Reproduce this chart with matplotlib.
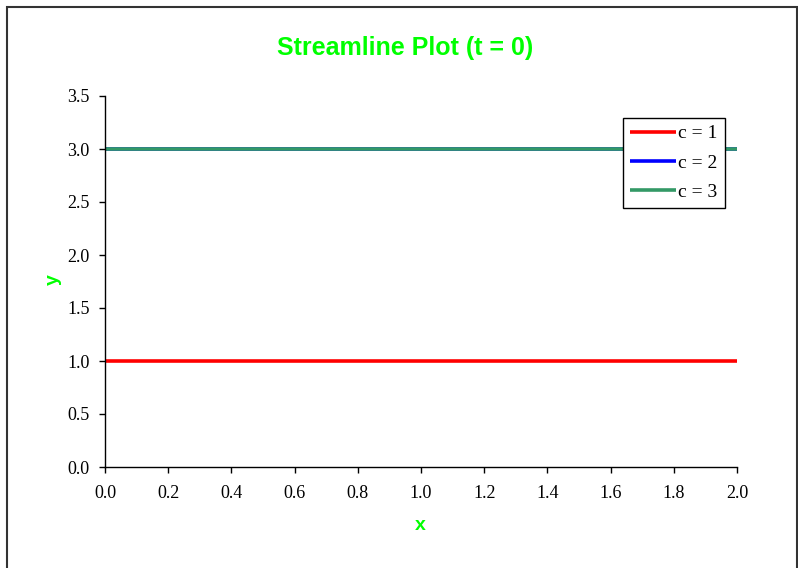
import numpy as np
import matplotlib
matplotlib.use("Agg")
import matplotlib.pyplot as plt
from matplotlib.patches import Rectangle

# data
x_vals = [0.0, 2.0]
labels = ["c = 1", "c = 2", "c = 3"]
y_vals = [[1.0, 1.0], [3.0, 3.0], [3.0, 3.0]]
colors = ["#ff0000", "#0000ff", "#339966"]
x_ticks = [0.0, 0.2, 0.4, 0.6, 0.8, 1.0, 1.2, 1.4, 1.6, 1.8, 2.0]
y_ticks = [0.0, 0.5, 1.0, 1.5, 2.0, 2.5, 3.0, 3.5]

green = "#00ff00"

fig = plt.figure(figsize=(7.98, 5.68), dpi=100)
fig.patches.append(Rectangle((7 / 798, -0.05), 789.5 / 798, 1.05 - 7 / 568,
                             transform=fig.transFigure, fill=False,
                             edgecolor="#333333", linewidth=1.5))

ax = fig.add_axes([105 / 798, 1 - 467 / 568, 632 / 798, 371 / 568])

for yv, lab, col in zip(y_vals, labels, colors):
    ax.plot(x_vals, yv, color=col, linewidth=2.6, label=lab, solid_capstyle="butt")

ax.set_xlim(0, 2.0)
ax.set_ylim(0, 3.5)
ax.set_xticks(x_ticks)
ax.set_yticks(y_ticks)
ax.set_xticklabels([f"{v:.1f}" for v in x_ticks], family="Liberation Serif", fontsize=13)
ax.set_yticklabels([f"{v:.1f}" for v in y_ticks], family="Liberation Serif", fontsize=13)
ax.tick_params(direction="out", length=4, width=1)
ax.tick_params(axis="x", pad=9)
ax.tick_params(axis="y", pad=7)
for s in ["top", "right"]:
    ax.spines[s].set_visible(False)
for s in ["left", "bottom"]:
    ax.spines[s].set_linewidth(1)

fig.text(405 / 798, 1 - 48 / 568, "Streamline Plot (t = 0)", color=green,
         family="Liberation Sans", fontweight="bold", fontsize=18,
         ha="center", va="center")
fig.text(420 / 798, 1 - 525 / 568, "x", color=green, family="Liberation Sans",
         fontweight="bold", fontsize=14, ha="center", va="center")
fig.text(53 / 798, 1 - 280 / 568, "y", color=green, family="Liberation Sans",
         fontweight="bold", fontsize=14, ha="center", va="center", rotation=90)

leg = ax.legend(loc="upper left", bbox_to_anchor=((623 - 105) / 632, (467 - 118) / 371),
                prop={"family": "Liberation Serif", "size": 14},
                frameon=True, fancybox=False, framealpha=1, handlelength=2.4,
                handletextpad=0.1, borderpad=0.35, labelspacing=0.6, borderaxespad=0)
leg.get_frame().set_edgecolor("black")
leg.get_frame().set_linewidth(1)

fig.savefig("out.png", dpi=100)
